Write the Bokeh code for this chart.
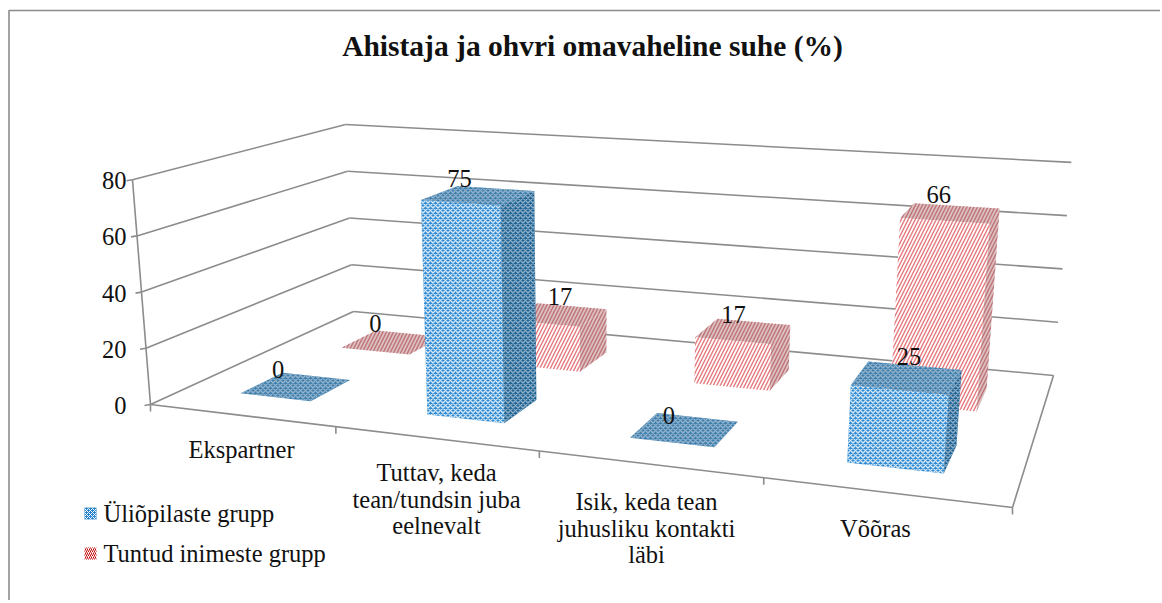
import numpy as np
from bokeh.plotting import figure
from bokeh.models import Range1d
from bokeh.core.properties import value
from bokeh.embed import file_html
from bokeh.resources import INLINE

title = "Ahistaja ja ohvri omavaheline suhe (%)"
categories = ["Ekspartner", "Tuttav, keda\ntean/tundsin juba\neelnevalt",
              "Isik, keda tean\njuhusliku kontakti\nläbi", "Võõras"]
series_names = ["Üliõpilaste grupp", "Tuntud inimeste grupp"]
students = [0, 75, 0, 25]
known = [0, 17, 17, 66]
value_ticks = [0, 20, 40, 60, 80]

# layout: page pixels of the floor corners and the point where the verticals meet
FLOOR = [(150, 404), (1012, 507), (1053, 375), (353, 311)]
VP = (590.0, 5900.0)
S0, S1, Y0 = 0.0409, 0.000080, 404.0
GRID = "#8c8c8c"
SERIF = value("Liberation Serif")
W, H = 1160, 600


def homography(q):
    src = [(0, 0), (4, 0), (4, 1), (0, 1)]
    A, b = [], []
    for (x, y), (X, Y) in zip(src, q):
        A.append([x, y, 1, 0, 0, 0, -x * X, -y * X]); b.append(X)
        A.append([0, 0, 0, x, y, 1, -x * Y, -y * Y]); b.append(Y)
    return np.append(np.linalg.solve(np.array(A, float), np.array(b, float)), 1).reshape(3, 3)


HF = homography(FLOOR)


def proj(u, v, w):
    a = HF @ np.array([u, v, 1.0])
    x, y = a[:2] / a[2]
    s = (S0 + S1 * (y - Y0)) * w / 80.0
    return float(x + (x - VP[0]) * s), float(y + (y - VP[1]) * s)


p = figure(width=W, height=H, output_backend="svg", toolbar_location=None,
           x_range=Range1d(0, W), y_range=Range1d(H, 0), min_border=0,
           outline_line_color=None, background_fill_color="white", border_fill_color="white")
p.axis.visible = False
p.grid.visible = False


def seg(a, b, w=1.6, c=GRID):
    p.line([a[0], b[0]], [a[1], b[1]], line_color=c, line_width=w)


# frame: only the left and top edges show in the picture
p.line([8.5, 8.5, W], [H, 10, 10], line_color="#8c8c8c", line_width=1.6)

# walls
for t in value_ticks:
    seg(proj(0, 0, t), proj(0, 1, t))
    seg(proj(0, 1, t), proj(4, 1, t))
    a = proj(0, 0, t)
    seg(a, (a[0] - 6, a[1] + 1))
seg(proj(0, 0, 0), proj(0, 0, 80))
seg(proj(0, 0, 0), proj(4, 0, 0))
seg(proj(4, 0, 0), proj(4, 1, 0))
for i in range(5):
    a = proj(i, 0, 0)
    seg(a, (a[0], a[1] + 7))

# tick labels
for t in value_ticks:
    a = proj(0, 0, t)
    p.text([126], [a[1] + 1], text=[str(t)], text_font=SERIF, text_font_size="24.5px",
           text_align="right", text_baseline="middle", text_color="#111111")

U = [[(0.30, 0.69), (1.31, 1.70), (2.31, 2.70), (3.285, 3.69)],
     [(0.34, 0.75), (1.325, 1.72), (2.33, 2.715), (3.305, 3.71)]]
ROWS = [(0.155, 0.35), (0.62, 0.82)]
STYLE = [
    dict(front="#2f8ad2", top="#3f7fae", side="#1f6294", hatch="#ffffff", top_hatch="#a9c2d4", pat="diagonal_cross", alpha=0.8, scale=5),
    dict(front="#ffffff", top="#dcc0c0", side="#dcc0c0", hatch="#dc4a50", top_hatch="#b45a60", pat="right_diagonal_line", alpha=0.75, scale=7),
]


def face(pts, color, hatch, pat, alpha, scale):
    p.patch([q[0] for q in pts], [q[1] for q in pts], fill_color=color, line_color=None,
            hatch_pattern=pat, hatch_color=hatch, hatch_alpha=alpha, hatch_scale=scale, hatch_weight=1.4)


LABEL_OFF = [[(-18, -17), (-19, -17), (-16, -14), (2, -21)], [(-17, -19), (2, -18), (-10, -17), (-12, -19)]]
for c in range(4):
    for s, vals in ((1, known), (0, students)):
        val = vals[c]
        u0, u1 = U[s][c]
        v0, v1 = ROWS[s]
        st = STYLE[s]
        if val > 0:
            face([proj(u0, v0, 0), proj(u1, v0, 0), proj(u1, v0, val), proj(u0, v0, val)], st["front"], st["hatch"], st["pat"], st["alpha"], st["scale"])
            face([proj(u1, v0, 0), proj(u1, v1, 0), proj(u1, v1, val), proj(u1, v0, val)], st["side"], st["top_hatch"], st["pat"], st["alpha"], st["scale"])
        face([proj(u0, v0, val), proj(u1, v0, val), proj(u1, v1, val), proj(u0, v1, val)], st["top"], st["top_hatch"], st["pat"], st["alpha"], st["scale"])
for c in range(4):
    for s, vals in ((1, known), (0, students)):
        val = vals[c]
        u0, u1 = U[s][c]
        v0, v1 = ROWS[s]
        cx, cy = proj((u0 + u1) / 2, (v0 + v1) / 2, val)
        ox, oy = LABEL_OFF[s][c]
        p.text([cx + ox], [cy + oy], text=[str(val)], text_font=SERIF, text_font_size="24.5px",
               text_align="center", text_baseline="middle", text_color="#111111")

# category labels
CAT_POS = [(241, 449), (436, 472), (646, 501), (875, 528)]
for name, (x, y) in zip(categories, CAT_POS):
    for k, line in enumerate(name.split("\n")):
        p.text([x], [y + k * 26.7], text=[line], text_font=SERIF, text_font_size="24.5px",
               text_align="center", text_baseline="middle", text_color="#111111")

# legend
LEG = [(513, "#1f7fc8", "white", "diagonal_cross"), (553, "#ffffff", "#c00000", "right_diagonal_line")]
for name, (y, col, h, pat) in zip(series_names, LEG):
    p.quad(left=[84], right=[96], top=[y - 6], bottom=[y + 6], fill_color=col, line_color=None,
           hatch_pattern=pat, hatch_color=h, hatch_scale=4, hatch_weight=1)
    p.text([103], [y], text=[name], text_font=SERIF, text_font_size="24.5px",
           text_align="left", text_baseline="middle", text_color="#111111")

p.text([592], [45], text=[title], text_font=SERIF, text_font_size="29.5px", text_font_style="bold",
       text_align="center", text_baseline="middle", text_color="#111111")

open("out.html", "w").write(file_html(p, INLINE))
